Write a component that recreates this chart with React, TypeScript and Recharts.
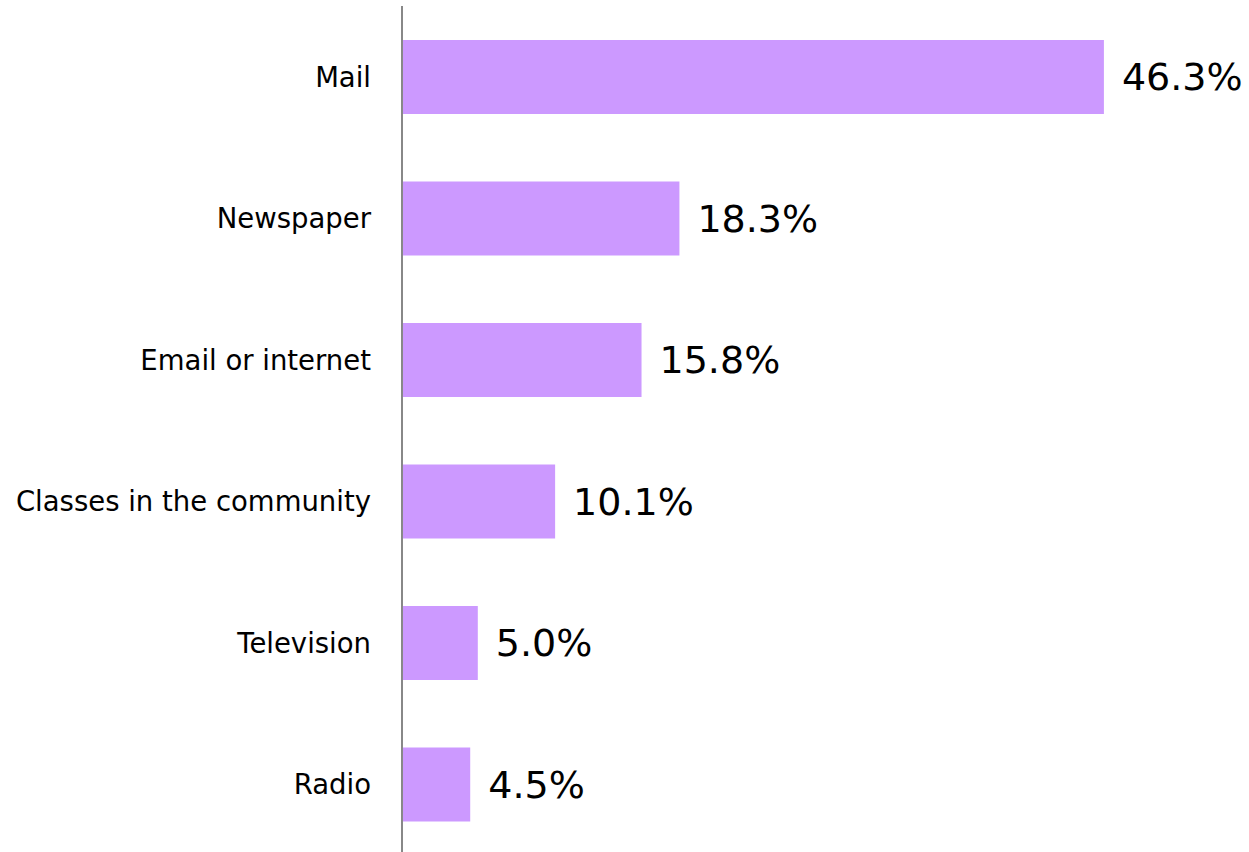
import { BarChart, Bar, XAxis, YAxis, LabelList } from 'recharts'

const categories = ['Mail', 'Newspaper', 'Email or internet', 'Classes in the community', 'Television', 'Radio']
const shares = [46.3, 18.3, 15.8, 10.1, 5.0, 4.5]

const data = categories.map((name, i) => ({ name, value: shares[i] }))

const font = '"DejaVu Sans", Verdana, sans-serif'

export default function App() {
  return (
    // chart sits at the page corner and runs slightly past the bottom, like the source
    <div style={{ position: 'absolute', left: 0, top: 0, width: 1249, height: 852, overflow: 'hidden', background: '#fff' }}>
      <BarChart
        width={1249}
        height={856}
        data={data}
        layout="vertical"
        barSize={74}
        margin={{ top: 6, right: 89, left: 0, bottom: 1 }}
      >
        <XAxis type="number" domain={[0, 50]} hide />
        <YAxis
          type="category"
          dataKey="name"
          width={402}
          axisLine={{ stroke: '#888888', strokeWidth: 2 }}
          tickLine={false}
          tickSize={0}
          tickMargin={31}
          tick={{ fill: '#000', fontSize: 27.5, fontFamily: font }}
        />
        <Bar dataKey="value" fill="#cc99ff" isAnimationActive={false}>
          <LabelList
            dataKey="value"
            position="right"
            offset={18}
            formatter={(v: any) => `${Number(v).toFixed(1)}%`}
            style={{ fill: '#000', fontSize: 38, fontFamily: font }}
          />
        </Bar>
      </BarChart>
    </div>
  )
}
